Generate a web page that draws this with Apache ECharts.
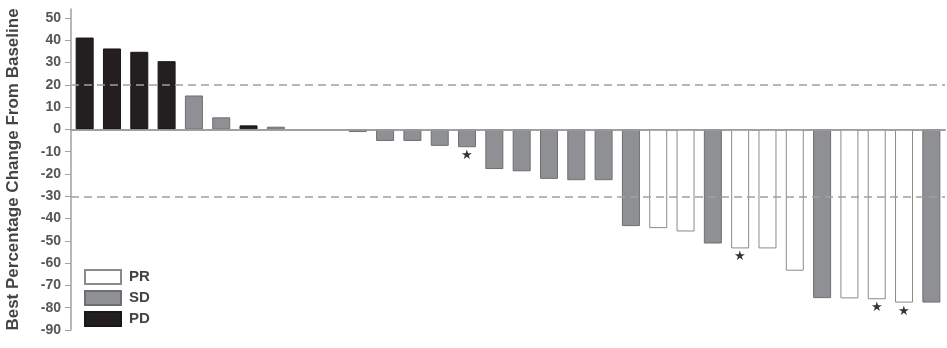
<!DOCTYPE html>
<html>
<head>
<meta charset="utf-8">
<script src="https://cdn.jsdelivr.net/npm/echarts@6/dist/echarts.min.js"></script>
<style>
  html, body { margin: 0; padding: 0; background: #fff; }
  #chart { width: 947px; height: 348px; }
</style>
</head>
<body>
<div id="chart"></div>
<script>
// one entry per patient, left to right
var responses = ['PD', 'PD', 'PD', 'PD', 'SD', 'SD', 'PD', 'SD', '', '',
                 'SD', 'SD', 'SD', 'SD', 'SD', 'SD', 'SD', 'SD', 'SD', 'SD',
                 'SD', 'PR', 'PR', 'SD', 'PR', 'PR', 'PR', 'SD', 'PR', 'PR',
                 'PR', 'SD'];
var changes = [41.2, 36.3, 34.8, 30.6, 15.2, 5.4, 1.8, 1.2, null, null,
               -1.2, -5.2, -5.2, -7.4, -8.0, -17.8, -18.8, -22.2, -22.8, -22.8,
               -43.4, -44.3, -45.8, -51.2, -53.4, -53.4, -63.4, -75.7, -75.8, -76.2,
               -77.7, -77.7];
// patients marked with a star
var marked = [14, 24, 29, 30];
var groups = ['PR', 'SD', 'PD'];
var yTicks = { min: -90, max: 54, interval: 10 };

var fills = { PR: '#ffffff', SD: '#8f9094', PD: '#231f20' };
var borders = { PR: '#8a8a8a', SD: '#6e6f72', PD: '#1a1718' };

var categories = changes.map(function (v, i) { return 'P' + (i + 1); });

var series = groups.map(function (g) {
  return {
    name: g,
    type: 'bar',
    stack: 'all',
    barWidth: 18,
    itemStyle: { color: fills[g], borderColor: borders[g], borderWidth: 1 },
    label: {
      show: false,
      position: 'outside',
      distance: 2,
      formatter: '★',
      fontSize: 13,
      color: '#333'
    },
    data: changes.map(function (v, i) {
      if (responses[i] !== g || v === null) return '-';
      if (marked.indexOf(i) >= 0) return { value: v, label: { show: true } };
      return v;
    })
  };
});

// reference lines: zero, +20% and -30%
series[0].markLine = {
  silent: true,
  symbol: 'none',
  label: { show: false },
  data: [
    { yAxis: 0, lineStyle: { type: 'solid', color: '#a0a0a0', width: 1.5 } },
    { yAxis: 20, lineStyle: { type: [8, 5], color: '#a0a0a0', width: 1.5 } },
    { yAxis: -30, lineStyle: { type: [8, 5], color: '#a0a0a0', width: 1.5 } }
  ]
};

var chart = echarts.init(document.getElementById('chart'));
chart.setOption({
  animation: false,
  textStyle: { fontFamily: 'Liberation Sans, Arial, sans-serif' },
  grid: { left: 71, right: 2, top: 9, bottom: 18, outerBoundsMode: 'none', containLabel: false },
  legend: {
    data: groups,
    orient: 'vertical',
    left: 84,
    top: 269,
    padding: 0,
    itemWidth: 36,
    itemHeight: 14,
    itemGap: 5,
    icon: 'rect',
    textStyle: { fontSize: 15, fontWeight: 'bold', color: '#444', padding: [0, 0, 0, 3] }
  },
  xAxis: {
    type: 'category',
    data: categories,
    axisLine: { lineStyle: { color: '#a0a0a0', width: 2 } },
    axisTick: { show: false },
    axisLabel: { show: false },
    splitLine: { show: false }
  },
  yAxis: {
    type: 'value',
    min: yTicks.min,
    max: yTicks.max,
    interval: yTicks.interval,
    name: 'Best Percentage Change From Baseline',
    nameLocation: 'middle',
    nameGap: 49,
    nameTextStyle: { fontSize: 17, fontWeight: 'bold', color: '#444' },
    axisLine: { show: true, lineStyle: { color: '#a0a0a0', width: 1.5 } },
    axisTick: { show: true, length: 6, lineStyle: { color: '#a0a0a0' } },
    axisLabel: { fontSize: 14, fontWeight: 'bold', color: '#555', margin: 10, showMaxLabel: false },
    splitLine: { show: false }
  },
  series: series
});
</script>
</body>
</html>
